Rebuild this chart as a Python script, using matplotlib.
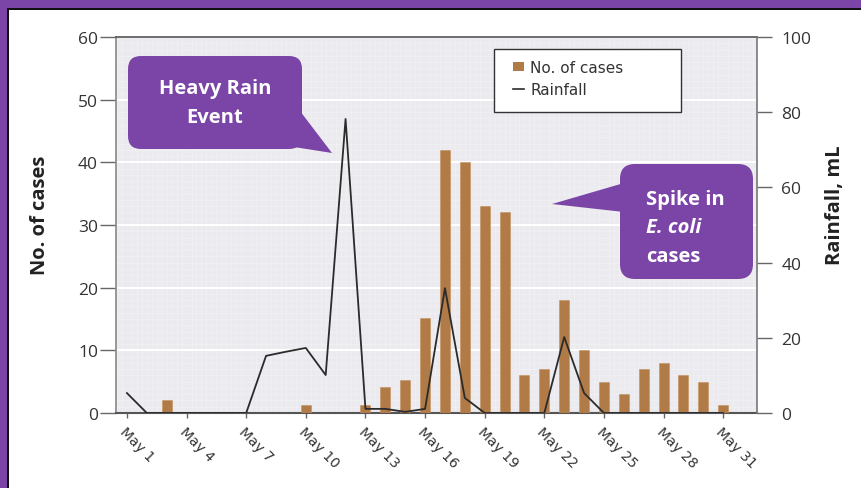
import matplotlib
matplotlib.use('Agg')
import matplotlib.pyplot as plt
from matplotlib.patches import Rectangle, FancyBboxPatch, Polygon, Patch
from matplotlib.lines import Line2D
from matplotlib.ticker import MultipleLocator
from matplotlib.transforms import IdentityTransform, ScaledTranslation

# ---------------- data ----------------
days = list(range(1, 32))
cases = [0, 0, 2.1, 0, 0, 0, 0, 0, 0, 1.2, 0, 0, 1.2, 4.1, 5.2, 15.2,
         42, 40, 33, 32, 6, 7, 18, 10, 5, 3, 7, 8, 6, 5, 1.2]
rainfall = [5.3, 0, 0, 0, 0, 0, 0, 15.2, 16.3, 17.3, 10.1, 78.2, 1.1, 1.1,
            0.3, 1.1, 33.2, 4.0, 0, 0, 0, 0, 20.2, 5.3, 0, 0, 0, 0, 0, 0, 0]
tick_days = [1, 4, 7, 10, 13, 16, 19, 22, 25, 28, 31]
tick_labels = ["May %d" % d for d in tick_days]
left_ticks = [0, 10, 20, 30, 40, 50, 60]
right_ticks = [0, 20, 40, 60, 80, 100]

plt.rcParams['font.family'] = ['Open Sans', 'DejaVu Sans']

W, H = 861, 489
fig = plt.figure(figsize=(W / 100, H / 100), dpi=100)
fig.patch.set_facecolor('white')
ID = IdentityTransform()


def fx(px):
    return px / W


def fy(py):
    return 1 - py / H


PURPLE = '#7B44A7'
BROWN = '#B07B47'
LINE = '#2B2B2B'

ax = fig.add_axes([fx(116), fy(414), (757 - 116) / W, (414 - 38) / H])
ax.set_facecolor('#EBEBEF')
ax.set_axisbelow(True)
ax.bar(days, cases, width=0.5, color=BROWN, edgecolor='#C5905C',
       linewidth=0.4, zorder=3)
ax.set_xlim(0.45, 32.7)
ax.set_ylim(0, 60)
ax.set_yticks(left_ticks)
ax.set_xticks(tick_days)
ax.set_xticklabels(tick_labels, rotation=-45, ha='left', va='top',
                   rotation_mode='anchor', fontsize=10, color='#333',
                   family='DejaVu Sans')
shift = ScaledTranslation(6 / 100, 0, fig.dpi_scale_trans)
for lbl in ax.get_xticklabels():
    lbl.set_transform(lbl.get_transform() + shift)
ax.xaxis.set_minor_locator(MultipleLocator(0.25))
ax.yaxis.set_minor_locator(MultipleLocator(1))
ax.grid(which='minor', color='#F2F2F5', lw=0.5)
ax.yaxis.grid(True, which='major', color='white', lw=1.5)
ax.tick_params(which='minor', length=0)
ax.tick_params(axis='y', length=11.5, width=1, color='#666', pad=1.5,
               labelsize=12.5, labelcolor='#333')
ax.tick_params(axis='x', length=3.5, width=1, color='#666', pad=4.5)
ax.spines['top'].set_color('#555')
ax.spines['top'].set_linewidth(1.2)
ax.spines['left'].set_color('#888')
ax.spines['left'].set_linewidth(1.2)
ax.spines['bottom'].set_color('#555')
ax.spines['bottom'].set_linewidth(1.5)
ax.spines['right'].set_visible(False)

ax.set_ylabel('No. of cases', fontsize=14.5, fontweight='bold', color='#222')
ax.yaxis.set_label_coords((40 - 116) / 641, (414 - 215) / 376)
ax.yaxis.label.set_va('center')

ax2 = ax.twinx()
ax2.plot(days, rainfall, color=LINE, lw=1.3, zorder=4)
ax2.set_ylim(0, 100)
ax2.set_yticks(right_ticks)
ax2.tick_params(axis='y', length=11, width=1, color='#666', pad=6.5,
                labelsize=12.5, labelcolor='#333')
for s in ['left', 'top', 'bottom']:
    ax2.spines[s].set_visible(False)
ax2.spines['right'].set_color('#777')
ax2.spines['right'].set_linewidth(1.2)
ax2.set_ylabel('Rainfall, mL', fontsize=14.5, fontweight='bold', color='#222')
ax2.yaxis.set_label_coords((835 - 116) / 641, (414 - 205) / 376)
ax2.yaxis.label.set_va('center')

# legend
ax2.add_patch(Rectangle((494, H - 113), 187, 63, transform=ID,
                        facecolor='white', edgecolor='#333', lw=1,
                        zorder=4.5))
handles = [Patch(facecolor=BROWN, edgecolor='none'),
           Line2D([0], [0], color=LINE, lw=1.2)]
leg = ax2.legend(handles, ['No. of cases', 'Rainfall'], loc='upper left',
                 bbox_to_anchor=(fx(513), fy(61)),
                 bbox_transform=fig.transFigure, frameon=False,
                 handlelength=0.72, handleheight=0.6, handletextpad=0.4,
                 labelspacing=0.45, borderpad=0, borderaxespad=0,
                 prop={'family': 'DejaVu Sans', 'size': 11})
for t in leg.get_texts():
    t.set_color('#333')
leg.set_zorder(5)

# frame
fig.add_artist(Rectangle((0, H - 9), W, 9, transform=ID, facecolor=PURPLE,
                         edgecolor='none'))
fig.add_artist(Rectangle((0, 0), 7, H, transform=ID, facecolor=PURPLE,
                         edgecolor='none'))
fig.add_artist(Rectangle((7, H - 11), W - 7, 2, transform=ID,
                         facecolor='#111', edgecolor='none'))
fig.add_artist(Rectangle((7, 0), 2, H - 9, transform=ID,
                         facecolor='#111', edgecolor='none'))

# callout 1: Heavy Rain Event
fig.add_artist(FancyBboxPatch((128, H - 150), 174, 93,
                              boxstyle='round,pad=0,rounding_size=13',
                              transform=ID, facecolor=PURPLE,
                              edgecolor='none'))
fig.add_artist(Polygon([(300, H - 112), (332, H - 154), (294, H - 148)],
                       closed=True, transform=ID, facecolor=PURPLE,
                       edgecolor='none'))
fig.text(215, H - 94, 'Heavy Rain', transform=ID, ha='center',
         va='baseline', color='white', fontsize=14.5, fontweight='bold')
fig.text(215, H - 123, 'Event', transform=ID, ha='center', va='baseline',
         color='white', fontsize=14.5, fontweight='bold')

# callout 2: Spike in E. coli cases
fig.add_artist(FancyBboxPatch((620, H - 280), 133, 115,
                              boxstyle='round,pad=0,rounding_size=15',
                              transform=ID, facecolor=PURPLE,
                              edgecolor='none'))
fig.add_artist(Polygon([(624, H - 184), (552, H - 205), (624, H - 213)],
                       closed=True, transform=ID, facecolor=PURPLE,
                       edgecolor='none'))
fig.text(646, H - 205, 'Spike in', transform=ID, ha='left', va='baseline',
         color='white', fontsize=14.5, fontweight='bold')
fig.text(646, H - 233, 'E. coli', transform=ID, ha='left', va='baseline',
         color='white', fontsize=14.5, fontweight='bold', style='italic')
fig.text(646, H - 262, 'cases', transform=ID, ha='left', va='baseline',
         color='white', fontsize=14.5, fontweight='bold')

fig.savefig('out.png', dpi=100, facecolor='white')
